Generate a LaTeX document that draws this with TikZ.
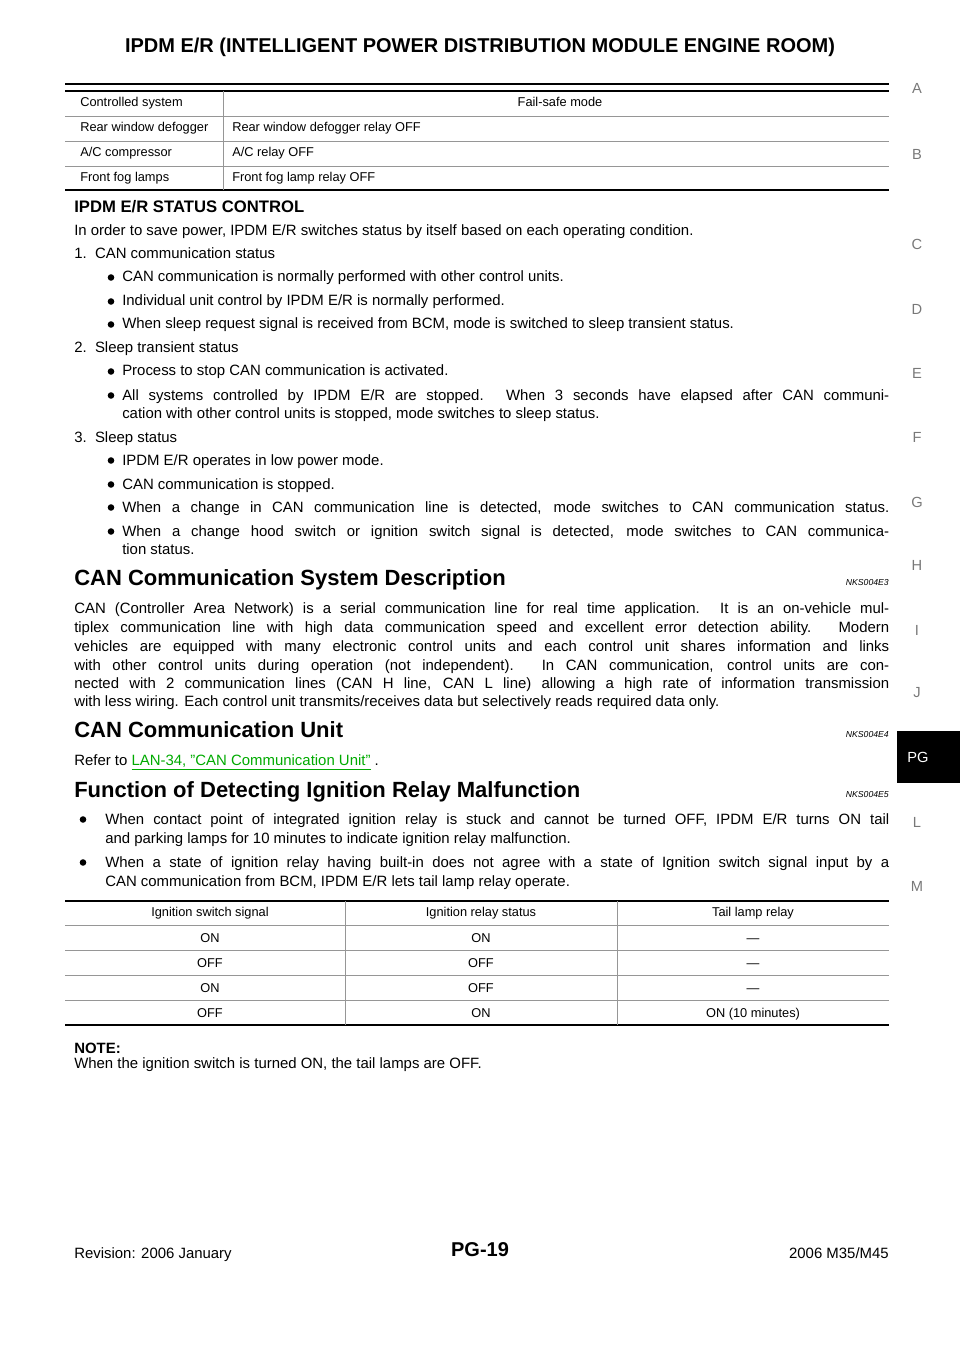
\documentclass[tikz,border=0pt]{standalone}
\usepackage{fontspec}
\setmainfont{Liberation Sans}
\usetikzlibrary{positioning}
\definecolor{linkgreen}{RGB}{0,170,0}
\definecolor{tabgray}{RGB}{150,150,150}
\definecolor{sidegray}{RGB}{120,120,120}
\newcommand\bodyfont{\fontsize{11.2}{13}\selectfont}
\newcommand\tabfont{\fontsize{9.6}{11}\selectfont}
\newcommand\headfont{\fontsize{16.5}{19}\selectfont\bfseries}
\newcommand\fullw{611.25pt}
\newcommand\bulw{575.25pt}

\begin{document}
\begin{tikzpicture}[x=0.75pt,y=-0.75pt,
  body/.style={anchor=base west,inner sep=0pt,font=\bodyfont},
  cell/.style={anchor=base,inner sep=0pt,font=\tabfont},
  cellw/.style={anchor=base west,inner sep=0pt,font=\tabfont},
  head/.style={anchor=base west,inner sep=0pt,font=\headfont},
  side/.style={inner sep=0pt,font=\fontsize{11}{13}\selectfont,text=sidegray},
  thick rule/.style={line width=2.2pt},
  thin rule/.style={line width=0.6pt,draw=tabgray}]
	\useasboundingbox (0,0) rectangle (960,1358);
	% header
	\node[inner sep=0pt,font=\fontsize{15}{18}\selectfont\bfseries] (title) at (480,47) {IPDM E/R (INTELLIGENT POWER DISTRIBUTION MODULE ENGINE ROOM)};
	\draw[thick rule] (65,84) -- (889,84);
	% side index
	\foreach \l/\y in {A/88,B/154,C/244,D/309,E/373,F/437,G/502,H/565,I/630,J/693,L/822,M/886}
		\node[side] (side\l) at (917,\y) {\l};
	\fill[black] (897,731) rectangle (960,783);
	\node[side,text=white] (sidePG) at (918,757) {PG};
	% fail-safe table
	\draw[line width=1.6pt] (65,91) -- (889,91);
	\draw[thin rule] (65,116) -- (889,116);
	\draw[thin rule] (65,141) -- (889,141);
	\draw[thin rule] (65,166) -- (889,166);
	\draw[thick rule] (65,190) -- (889,190);
	\draw[thin rule] (223,91) -- (223,190);
	\node[cellw] (fs1) at (80,107) {Controlled system};
	\node[cell] (fs2) at (560,107) {Fail-safe mode};
	\node[cellw] (fs3) at (80,132) {Rear window defogger};
	\node[cellw] (fs4) at (232,132) {Rear window defogger relay OFF};
	\node[cellw] (fs5) at (80,157) {A/C compressor};
	\node[cellw] (fs6) at (232,157) {A/C relay OFF};
	\node[cellw] (fs7) at (80,182) {Front fog lamps};
	\node[cellw] (fs8) at (232,182) {Front fog lamp relay OFF};
	% status control
	\node[body,font=\fontsize{12.5}{15}\selectfont\bfseries] (stat) at (74,213) {IPDM E/R STATUS CONTROL};
	\node[body] (s0) at (74,236) {In order to save power, IPDM E/R switches status by itself based on each operating condition.};
	\node[body] (s1) at (74,259) {1.\ \ CAN communication status};
	\node[body] (s2) at (122,282) {CAN communication is normally performed with other control units.};
	\node[body] (s3) at (122,306) {Individual unit control by IPDM E/R is normally performed.};
	\node[body] (s4) at (122,329) {When sleep request signal is received from BCM, mode is switched to sleep transient status.};
	\node[body] (s5) at (74,353) {2.\ \ Sleep transient status};
	\node[body] (s6) at (122,376) {Process to stop CAN communication is activated.};
	\node[body] (s7) at (122,400) {\makebox[\bulw][s]{All systems controlled by IPDM E/R are stopped. When 3 seconds have elapsed after CAN communi-}};
	\node[body] (s8) at (122,418) {cation with other control units is stopped, mode switches to sleep status.};
	\node[body] (s9) at (74,442) {3.\ \ Sleep status};
	\node[body] (s10) at (122,465) {IPDM E/R operates in low power mode.};
	\node[body] (s11) at (122,489) {CAN communication is stopped.};
	\node[body] (s12) at (122,512) {\makebox[\bulw][s]{When a change in CAN communication line is detected, mode switches to CAN communication status.}};
	\node[body] (s13) at (122,536) {\makebox[\bulw][s]{When a change hood switch or ignition switch signal is detected, mode switches to CAN communica-}};
	\node[body] (s14) at (122,554) {tion status.};
	\foreach \y in {282,306,329,376,400,465,489,512,536}
		\fill (111,\y-4.5) circle (3.3);
	% CAN system description
	\node[head] (h1) at (74,585) {CAN Communication System Description};
	\node[anchor=base east,inner sep=0pt,font=\fontsize{6.5}{8}\selectfont\itshape] (n1) at (889,585) {NKS004E3};
	\node[body] (p1) at (74,613) {\makebox[\fullw][s]{CAN (Controller Area Network) is a serial communication line for real time application. It is an on-vehicle mul-}};
	\node[body] (p2) at (74,632) {\makebox[\fullw][s]{tiplex communication line with high data communication speed and excellent error detection ability. Modern}};
	\node[body] (p3) at (74,651) {\makebox[\fullw][s]{vehicles are equipped with many electronic control units and each control unit shares information and links}};
	\node[body] (p4) at (74,670) {\makebox[\fullw][s]{with other control units during operation (not independent). In CAN communication, control units are con-}};
	\node[body] (p5) at (74,688) {\makebox[\fullw][s]{nected with 2 communication lines (CAN H line, CAN L line) allowing a high rate of information transmission}};
	\node[body] (p6) at (74,706) {with less wiring. Each control unit transmits/receives data but selectively reads required data only.};
	% CAN unit
	\node[head] (h2) at (74,737) {CAN Communication Unit};
	\node[anchor=base east,inner sep=0pt,font=\fontsize{6.5}{8}\selectfont\itshape] (n2) at (889,737) {NKS004E4};
	\node[body] (r1) at (74,765) {Refer to \textcolor{linkgreen}{\underline{LAN-34, "CAN Communication Unit"}} .};
	% ignition relay
	\node[head] (h3) at (74,797) {Function of Detecting Ignition Relay Malfunction};
	\node[anchor=base east,inner sep=0pt,font=\fontsize{6.5}{8}\selectfont\itshape] (n3) at (889,797) {NKS004E5};
	\node[body] (f1) at (105,824) {\makebox[588pt][s]{When contact point of integrated ignition relay is stuck and cannot be turned OFF, IPDM E/R turns ON tail}};
	\node[body] (f2) at (105,843) {and parking lamps for 10 minutes to indicate ignition relay malfunction.};
	\node[body] (f3) at (105,867) {\makebox[588pt][s]{When a state of ignition relay having built-in does not agree with a state of Ignition switch signal input by a}};
	\node[body] (f4) at (105,886) {CAN communication from BCM, IPDM E/R lets tail lamp relay operate.};
	\foreach \y in {824,867}
		\fill (83,\y-4.5) circle (3.3);
	% ignition table
	\draw[line width=1.6pt] (65,901) -- (889,901);
	\foreach \y in {925,950,975,1000}
		\draw[thin rule] (65,\y) -- (889,\y);
	\draw[thick rule] (65,1025) -- (889,1025);
	\draw[thin rule] (345,901) -- (345,1025);
	\draw[thin rule] (617,901) -- (617,1025);
	\node[cell] (t1) at (210,916) {Ignition switch signal};
	\node[cell] (t2) at (481,916) {Ignition relay status};
	\node[cell] (t3) at (753,916) {Tail lamp relay};
	\foreach \a/\b/\c/\y [count=\i] in {ON/ON/---/942,OFF/OFF/---/967,ON/OFF/---/992,OFF/ON/ON (10 minutes)/1017}{
		\node[cell] (ta\i) at (210,\y) {\a};
		\node[cell] (tb\i) at (481,\y) {\b};
		\node[cell] (tc\i) at (753,\y) {\c};
	}
	\node[body,font=\bodyfont\bfseries] (note) at (74,1053) {NOTE:};
	\node[body] (note2) at (74,1068) {When the ignition switch is turned ON, the tail lamps are OFF.};
	% footer
	\node[body] (rev) at (74,1258) {Revision: 2006 January};
	\node[inner sep=0pt,font=\fontsize{15}{18}\selectfont\bfseries] (page) at (480,1250) {PG-19};
	\node[body,anchor=base east] (model) at (889,1258) {2006 M35/M45};
\end{tikzpicture}
\end{document}
